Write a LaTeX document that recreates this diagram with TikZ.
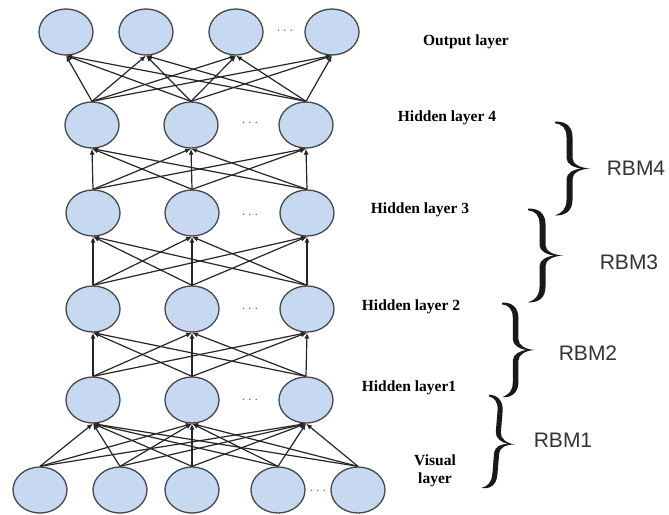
\documentclass[tikz,border=0pt]{standalone}
\usepackage{fontspec}
\setmainfont{Liberation Serif}
\newfontfamily\rbmfont{Liberation Sans}
\usetikzlibrary{shapes.geometric,arrows.meta}
\definecolor{nodefill}{RGB}{198,217,241}
\definecolor{nodeline}{RGB}{70,70,75}
\tikzset{
  bracepic/.pic={
    \fill[black!90] (0,-0.3) .. controls (10,-1) and (17.5,4) .. (17.5,15)
      -- (17.5,36)
      .. controls (17.5,42) and (25,46) .. (35,46.5)
      .. controls (25,47) and (17.5,51) .. (17.5,57)
      -- (17.5,78)
      .. controls (17.5,89) and (10,94) .. (0,93.3)
      .. controls (7,91) and (11.5,87) .. (11.5,78)
      -- (11.5,57)
      .. controls (11.5,51) and (19,47) .. (27,46.5)
      .. controls (19,46) and (11.5,42) .. (11.5,36)
      -- (11.5,15)
      .. controls (11.5,6) and (7,2) .. (0,1.3)
      -- cycle;
  }
}
\begin{document}
\begin{tikzpicture}[x=1pt,y=-1pt,
  neuron/.style={ellipse,draw=nodeline,fill=nodefill,line width=1.3pt,minimum width=54pt,minimum height=46pt,inner sep=0pt},
  conn/.style={draw=black!85,line width=1.2pt,-{Latex[length=6pt,width=5pt]}},
  lbl/.style={font=\bfseries\fontsize{15.5}{18}\selectfont,align=center},
  rbm/.style={font=\rbmfont\fontsize{21}{24}\selectfont,text=black!80},
  dotsnode/.style={text=black!60,font=\fontsize{14}{14}\selectfont}]
\path[use as bounding box,fill=white] (0,0) rectangle (669,514);

% output layer
\foreach \x [count=\i] in {66,146,236,332} \node[neuron] (o\i) at (\x,32) {};
% hidden layers
\foreach \x [count=\i] in {92,191,306} \node[neuron] (hd\i) at (\x,125) {};
\foreach \x [count=\i] in {93,192,307} \node[neuron] (hc\i) at (\x,213) {};
\foreach \x [count=\i] in {93,192,307} \node[neuron] (hb\i) at (\x,309) {};
\foreach \x [count=\i] in {93,192,306} \node[neuron] (ha\i) at (\x,400) {};
% visual layer
\foreach \x [count=\i] in {40,120,192,278,358} \node[neuron] (v\i) at (\x,490) {};

% connections
\foreach \i in {1,2,3} \foreach \j in {1,2,3,4} \draw[conn] (hd\i.north) -- (o\j.south);
\foreach \i in {1,2,3} \foreach \j in {1,2,3} {
  \draw[conn] (hc\i.north) -- (hd\j.south);
  \draw[conn] (hb\i.north) -- (hc\j.south);
  \draw[conn] (ha\i.north) -- (hb\j.south);
}
\foreach \i in {1,...,5} \foreach \j in {1,2,3} \draw[conn] (v\i.north) -- (ha\j.south);

% dots
\node[dotsnode] (d0) at (285,31) {$\cdots$};
\node[dotsnode] (d4) at (250,123) {$\cdots$};
\node[dotsnode] (d3) at (250,215) {$\cdots$};
\node[dotsnode] (d2) at (250,309) {$\cdots$};
\node[dotsnode] (d1) at (250,400) {$\cdots$};
\node[dotsnode] (dv) at (318,491) {$\cdots$};

% labels
\node[lbl] (lo) at (466,42) {Output layer};
\node[lbl] (l4) at (447,118) {Hidden layer 4};
\node[lbl] (l3) at (420,210) {Hidden layer 3};
\node[lbl] (l2) at (411,307) {Hidden layer 2};
\node[lbl] (l1) at (409,388) {Hidden layer1};
\node[lbl] (lv) at (435,471) {Visual\\layer};

% braces
\pic at (555,122) {bracepic};
\pic at (528,209) {bracepic};
\pic[xscale=0.94,yscale=1.01] at (502,303) {bracepic};
\pic[xscale=0.85,rotate=-5.5] at (489,395) {bracepic};

\node[rbm] (r4) at (636,168) {RBM4};
\node[rbm] (r3) at (629,262) {RBM3};
\node[rbm] (r2) at (588,353) {RBM2};
\node[rbm] (r1) at (563,440) {RBM1};
\end{tikzpicture}
\end{document}
